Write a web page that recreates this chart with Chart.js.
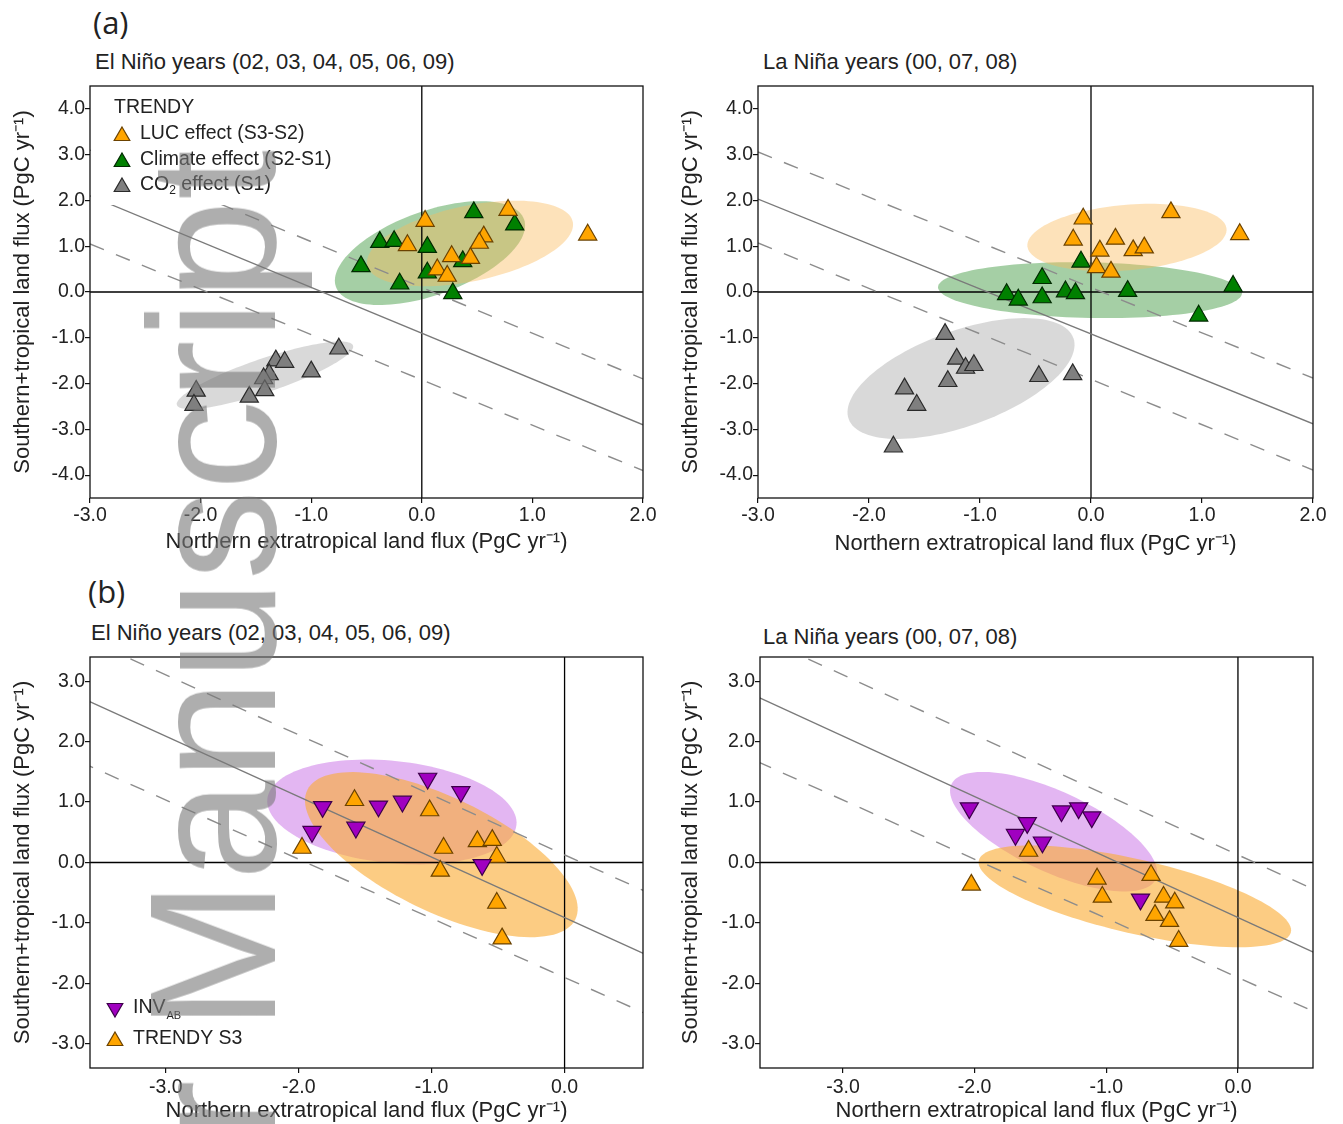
<!DOCTYPE html>
<html>
<head>
<meta charset="utf-8">
<script src="https://cdn.jsdelivr.net/npm/chart.js@4.4.1/dist/chart.umd.min.js"></script>
<style>
body{margin:0;background:#fff;width:1343px;height:1124px;position:relative;overflow:hidden;font-family:"Liberation Sans",Arial,sans-serif;color:#222}
canvas{position:absolute}
.lab{position:absolute;font-family:"Open Sans",sans-serif;font-size:31px;line-height:36px}
.ttl{position:absolute;font-size:22px;line-height:24px;white-space:nowrap}
#wm{position:absolute;left:123px;top:150px;font-size:180px;line-height:1;white-space:nowrap;color:rgba(120,120,120,0.6);transform-origin:0 0;transform:rotate(-90deg) translateX(-100%);pointer-events:none}
</style>
</head>
<body>
<div class="lab" style="left:93px;top:4px">(a)</div>
<div class="ttl" style="left:95px;top:50px">El Niño years (02, 03, 04, 05, 06, 09)</div>
<div class="ttl" style="left:763px;top:50px">La Niña years (00, 07, 08)</div>
<div class="lab" style="left:88px;top:573px">(b)</div>
<div class="ttl" style="left:91px;top:621px">El Niño years (02, 03, 04, 05, 06, 09)</div>
<div class="ttl" style="left:763px;top:625px">La Niña years (00, 07, 08)</div>

<canvas id="aLeft" width="660" height="482" style="left:0;top:78px"></canvas>
<canvas id="aRight" width="660" height="482" style="left:670px;top:78px"></canvas>
<canvas id="bLeft" width="660" height="474" style="left:0;top:650px"></canvas>
<canvas id="bRight" width="660" height="474" style="left:670px;top:650px"></canvas>

<div id="wm">Author Manuscript</div>

<script>
// ---- (a) TRENDY factorial runs, El Nino years
var elLucX  = [0.03, -0.13, 0.78, 1.50, 0.56, 0.52, 0.27, 0.44, 0.14, 0.23];
var elLucY  = [1.55, 1.02, 1.79, 1.25, 1.21, 1.07, 0.78, 0.74, 0.49, 0.35];
var elClimX = [-0.55, -0.38, -0.25, -0.20, 0.05, 0.05, 0.47, 0.84, 0.37, 0.28];
var elClimY = [0.56, 1.09, 1.11, 0.18, 0.98, 0.42, 1.74, 1.47, 0.67, -0.03];
var elCo2X  = [-0.75, -1.00, -1.32, -1.24, -1.38, -1.43, -1.42, -1.56, -2.04, -2.06];
var elCo2Y  = [-1.24, -1.74, -1.50, -1.53, -1.80, -1.89, -2.15, -2.29, -2.16, -2.47];

// ---- (a) La Nina years
var laLucX  = [-0.07, -0.16, 0.72, 1.34, 0.22, 0.08, 0.38, 0.48, 0.05, 0.18];
var laLucY  = [1.60, 1.14, 1.74, 1.26, 1.16, 0.90, 0.91, 0.97, 0.54, 0.44];
var laClimX = [-0.09, -0.44, -0.44, -0.23, -0.14, 0.33, 1.28, 0.97, -0.76, -0.655];
var laClimY = [0.66, 0.30, -0.12, 0.01, -0.03, 0.02, 0.13, -0.52, -0.05, -0.17];
var laCo2X  = [-1.315, -1.21, -1.13, -1.055, -1.29, -1.68, -1.57, -0.47, -0.165, -1.78];
var laCo2Y  = [-0.92, -1.46, -1.66, -1.60, -1.95, -2.11, -2.47, -1.84, -1.80, -3.38];

// ---- (b) inversions vs TRENDY S3
var elInvX = [-1.82, -1.90, -1.57, -1.40, -1.22, -1.03, -0.78, -0.62];
var elInvY = [0.92, 0.51, 0.58, 0.93, 1.01, 1.39, 1.17, -0.04];
var elS3X  = [-1.58, -1.975, -1.015, -0.91, -0.935, -0.656, -0.544, -0.51, -0.51, -0.47];
var elS3Y  = [1.03, 0.24, 0.86, 0.24, -0.14, 0.35, 0.37, 0.09, -0.67, -1.26];
var laInvX = [-2.04, -1.60, -1.69, -1.485, -1.34, -1.21, -1.11, -0.74];
var laInvY = [0.90, 0.655, 0.46, 0.335, 0.85, 0.90, 0.75, -0.61];
var laS3X  = [-1.59, -2.025, -1.07, -1.03, -0.66, -0.565, -0.48, -0.63, -0.52, -0.45];
var laS3Y  = [0.19, -0.37, -0.27, -0.57, -0.21, -0.57, -0.665, -0.87, -0.97, -1.30];

// spread ellipses: centre, and two half-axis vectors (data units)
var ellElCenter = [[0.074, 0.85], [0.436, 1.06], [-1.418, -1.82]];   // climate, luc, co2
var ellElU = [[0.85, 0.74], [0.929, 0.473], [0.796, 0.651]];
var ellElV = [[0.13, -0.86], [0.071, -0.807], [0.05, -0.349]];
var ellLaCenter = [[-0.009, 0.04], [0.324, 1.19], [-1.171, -1.89]];
var ellLaU = [[1.369, -0.065], [0.897, 0.189], [1.012, 0.887]];
var ellLaV = [[0, -0.607], [0.026, -0.713], [0.148, -0.978]];
var ellBElCenter = [[-1.299, 0.836], [-0.927, 0.13]];                  // inv, s3
var ellBElU = [[0.937, -0.215], [1.008, -1.071]];
var ellBElV = [[-0.04, -0.84], [-0.19, -0.848]];
var ellBLaCenter = [[-1.40, 0.51], [-0.783, -0.56]];
var ellBLaU = [[0.776, -0.785], [1.185, -0.594]];
var ellBLaV = [[-0.129, -0.602], [-0.0635, -0.597]];

// reference lines (end points)
var lineAX = [-3, 2];
var elSolid = [2.1, -2.9], elUpper = [3.1, -1.9], elLower = [1.05, -3.9];
var laSolid = [2.03, -2.88], laUpper = [3.06, -1.88], laLower = [1.07, -3.89];
var lineBX = [-3.65, 0.6];
var bSolid = [2.74, -1.51], bUpper = [3.75, -0.47], bLower = [1.67, -2.49];

// ticks
var xTicksA = [-3, -2, -1, 0, 1, 2];
var yTicksA = [-4, -3, -2, -1, 0, 1, 2, 3, 4];
var xTicksB = [-3, -2, -1, 0];
var yTicksB = [-3, -2, -1, 0, 1, 2, 3];

Chart.defaults.font.family = '"Liberation Sans", Arial, sans-serif';
Chart.defaults.color = '#222';

var ORANGE = '#ffa500', ORANGE_B = '#6b4200';
var GREEN = '#008000', GREEN_B = '#002a00';
var GREY = '#7f7f7f', GREY_B = '#2a2a2a';
var PURPLE = '#a000c0', PURPLE_B = '#3c004a';
var LEG_FONT = '19.5px "Liberation Sans", Arial, sans-serif';

function pts(xs, ys) { return xs.map(function (x, i) { return {x: x, y: ys[i]}; }); }

function markers(xs, ys, fill, border, order, down) {
  return {data: pts(xs, ys), pointStyle: 'triangle', pointRadius: 10.5, pointRotation: down ? 180 : 0,
    backgroundColor: fill, borderColor: border, borderWidth: 1.2, order: order};
}
function refLine(xs, ys, dashed) {
  return {data: pts(xs, ys), showLine: true, pointRadius: 0, borderColor: dashed ? '#8c8c8c' : '#7a7a7a',
    borderWidth: 1.4, borderDash: dashed ? [15, 13] : [], order: 10};
}
function ellipses(centers, us, vs, colors) {
  return centers.map(function (c, i) { return {c: c, u: us[i], v: vs[i], color: colors[i]}; });
}

function tri(ctx, x, y, r, down, fill, stroke) {
  var s = down ? -1 : 1;
  ctx.beginPath();
  ctx.moveTo(x, y - s * r);
  ctx.lineTo(x + r * 0.866, y + s * r / 2);
  ctx.lineTo(x - r * 0.866, y + s * r / 2);
  ctx.closePath();
  ctx.fillStyle = fill; ctx.fill();
  ctx.lineWidth = 1.2; ctx.strokeStyle = stroke; ctx.stroke();
}

var panelPlugin = {
  id: 'panel',
  beforeDatasetsDraw: function (chart, args, opts) {
    var ctx = chart.ctx, xs = chart.scales.x, ys = chart.scales.y, a = chart.chartArea;
    ctx.save();
    ctx.beginPath(); ctx.rect(a.left, a.top, a.right - a.left, a.bottom - a.top); ctx.clip();
    (opts.ellipses || []).forEach(function (e) {
      ctx.beginPath();
      for (var i = 0; i <= 120; i++) {
        var t = i / 120 * 2 * Math.PI;
        var px = xs.getPixelForValue(e.c[0] + e.u[0] * Math.cos(t) + e.v[0] * Math.sin(t));
        var py = ys.getPixelForValue(e.c[1] + e.u[1] * Math.cos(t) + e.v[1] * Math.sin(t));
        if (i) ctx.lineTo(px, py); else ctx.moveTo(px, py);
      }
      ctx.closePath();
      ctx.fillStyle = e.color; ctx.fill();
    });
    var x0 = xs.getPixelForValue(0), y0 = ys.getPixelForValue(0);
    ctx.strokeStyle = '#000'; ctx.lineWidth = 1.3;
    ctx.beginPath();
    ctx.moveTo(x0, a.top); ctx.lineTo(x0, a.bottom);
    ctx.moveTo(a.left, y0); ctx.lineTo(a.right, y0);
    ctx.stroke();
    ctx.restore();
  },
  afterDatasetsDraw: function (chart, args, opts) {
    if (opts.legend) opts.legend(chart.ctx, chart.chartArea);
  },
  afterDraw: function (chart) {
    var ctx = chart.ctx, a = chart.chartArea;
    ctx.save();
    ctx.strokeStyle = '#111'; ctx.lineWidth = 1.3;
    ctx.strokeRect(a.left, a.top, a.right - a.left, a.bottom - a.top);
    ctx.restore();
  }
};

function legendA(ctx, a) {
  ctx.save();
  ctx.fillStyle = '#fff';
  ctx.fillRect(a.left + 1, a.top + 1, 245, 118);
  ctx.font = LEG_FONT;
  ctx.textBaseline = 'middle';
  ctx.fillStyle = '#222';
  ctx.fillText('TRENDY', a.left + 24, a.top + 22);
  tri(ctx, a.left + 32, a.top + 50, 9, false, ORANGE, ORANGE_B);
  tri(ctx, a.left + 32, a.top + 76, 9, false, GREEN, GREEN_B);
  tri(ctx, a.left + 32, a.top + 101, 9, false, GREY, GREY_B);
  ctx.fillStyle = '#222';
  ctx.fillText('LUC effect (S3-S2)', a.left + 50, a.top + 48);
  ctx.fillText('Climate effect (S2-S1)', a.left + 50, a.top + 74);
  var x = a.left + 50;
  ctx.fillText('CO', x, a.top + 99);
  x += ctx.measureText('CO').width;
  ctx.font = '12px "Liberation Sans", Arial, sans-serif';
  ctx.fillText('2', x, a.top + 105);
  x += ctx.measureText('2').width;
  ctx.font = LEG_FONT;
  ctx.fillText(' effect (S1)', x, a.top + 99);
  ctx.restore();
}

function legendB(ctx, a) {
  ctx.save();
  ctx.font = LEG_FONT;
  ctx.textBaseline = 'middle';
  tri(ctx, a.left + 25, a.bottom - 60, 9, true, PURPLE, PURPLE_B);
  tri(ctx, a.left + 25, a.bottom - 27, 9, false, ORANGE, ORANGE_B);
  ctx.fillStyle = '#222';
  ctx.fillText('INV', a.left + 43, a.bottom - 60);
  var w = ctx.measureText('INV').width;
  ctx.font = '11px "Liberation Sans", Arial, sans-serif';
  ctx.fillText('AB', a.left + 44 + w, a.bottom - 52);
  ctx.font = LEG_FONT;
  ctx.fillText('TRENDY S3', a.left + 43, a.bottom - 29);
  ctx.restore();
}

function axis(min, max, ticks, title, size, titlePad, labelPad, horiz) {
  return {
    type: 'linear', min: min, max: max,
    afterBuildTicks: function (s) { s.ticks = ticks.map(function (v) { return {value: v}; }); },
    afterFit: function (s) {
      if (horiz) s.height = size; else s.width = size;
      s.paddingTop = 0; s.paddingBottom = 0; s.paddingLeft = 0; s.paddingRight = 0;
    },
    ticks: {autoSkip: false, maxRotation: 0, padding: labelPad, color: '#222', font: {size: 19.5},
      callback: function (v) { return Number(v).toFixed(1); }},
    grid: {drawOnChartArea: false, drawTicks: true, tickLength: 5, color: '#111', lineWidth: 1.2},
    border: {display: false},
    title: {display: true, text: title, color: '#222', font: {size: 22}, padding: titlePad}
  };
}

var X_TITLE = 'Northern extratropical land flux (PgC yr\u207B\u00B9)';
var Y_TITLE = 'Southern+tropical land flux (PgC yr\u207B\u00B9)';

function panel(id, datasets, ell, xr, yr, xt, yt, dims, legend) {
  return new Chart(document.getElementById(id), {
    type: 'scatter',
    data: {datasets: datasets},
    options: {
      responsive: false, animation: false, events: [],
      layout: {autoPadding: false, padding: {left: 0, top: dims.top, right: 17, bottom: 0}},
      plugins: {legend: {display: false}, tooltip: {enabled: false},
        panel: {ellipses: ell, legend: legend}},
      scales: {
        x: axis(xr[0], xr[1], xt, X_TITLE, dims.xh, {top: 0, bottom: dims.xtp}, dims.xlp, true),
        y: axis(yr[0], yr[1], yt, Y_TITLE, dims.yw, {top: dims.ytp, bottom: 0}, 0, false)
      }
    },
    plugins: [panelPlugin]
  });
}

var ELL_A = ['rgba(40,140,40,0.42)', 'rgba(250,185,90,0.42)', 'rgba(150,150,150,0.36)'];
var ELL_B = ['rgba(200,110,230,0.5)', 'rgba(250,172,55,0.62)'];

panel('aLeft', [
  markers(elLucX, elLucY, ORANGE, ORANGE_B, 0),
  markers(elClimX, elClimY, GREEN, GREEN_B, 1),
  markers(elCo2X, elCo2Y, GREY, GREY_B, 2),
  refLine(lineAX, elSolid, false), refLine(lineAX, elUpper, true), refLine(lineAX, elLower, true)
], ellipses(ellElCenter, ellElU, ellElV, ELL_A), [-3, 2], [-4.5, 4.5], xTicksA, yTicksA,
  {top: 8, xh: 62, yw: 90, xtp: 5, xlp: 1, ytp: 10}, legendA);

panel('aRight', [
  markers(laLucX, laLucY, ORANGE, ORANGE_B, 0),
  markers(laClimX, laClimY, GREEN, GREEN_B, 1),
  markers(laCo2X, laCo2Y, GREY, GREY_B, 2),
  refLine(lineAX, laSolid, false), refLine(lineAX, laUpper, true), refLine(lineAX, laLower, true)
], ellipses(ellLaCenter, ellLaU, ellLaV, ELL_A), [-3, 2], [-4.5, 4.5], xTicksA, yTicksA,
  {top: 8, xh: 62, yw: 88, xtp: 3, xlp: 1, ytp: 8}, null);

panel('bLeft', [
  markers(elS3X, elS3Y, ORANGE, ORANGE_B, 1),
  markers(elInvX, elInvY, PURPLE, PURPLE_B, 0, true),
  refLine(lineBX, bSolid, false), refLine(lineBX, bUpper, true), refLine(lineBX, bLower, true)
], ellipses(ellBElCenter, ellBElU, ellBElV, ELL_B), [-3.57, 0.59], [-3.4, 3.4], xTicksB, yTicksB,
  {top: 7, xh: 56, yw: 90, xtp: 0, xlp: 3, ytp: 10}, legendB);

panel('bRight', [
  markers(laS3X, laS3Y, ORANGE, ORANGE_B, 1),
  markers(laInvX, laInvY, PURPLE, PURPLE_B, 0, true),
  refLine(lineBX, bSolid, false), refLine(lineBX, bUpper, true), refLine(lineBX, bLower, true)
], ellipses(ellBLaCenter, ellBLaU, ellBLaV, ELL_B), [-3.63, 0.57], [-3.4, 3.4], xTicksB, yTicksB,
  {top: 7, xh: 56, yw: 90, xtp: 0, xlp: 3, ytp: 8}, null);
</script>
</body>
</html>
